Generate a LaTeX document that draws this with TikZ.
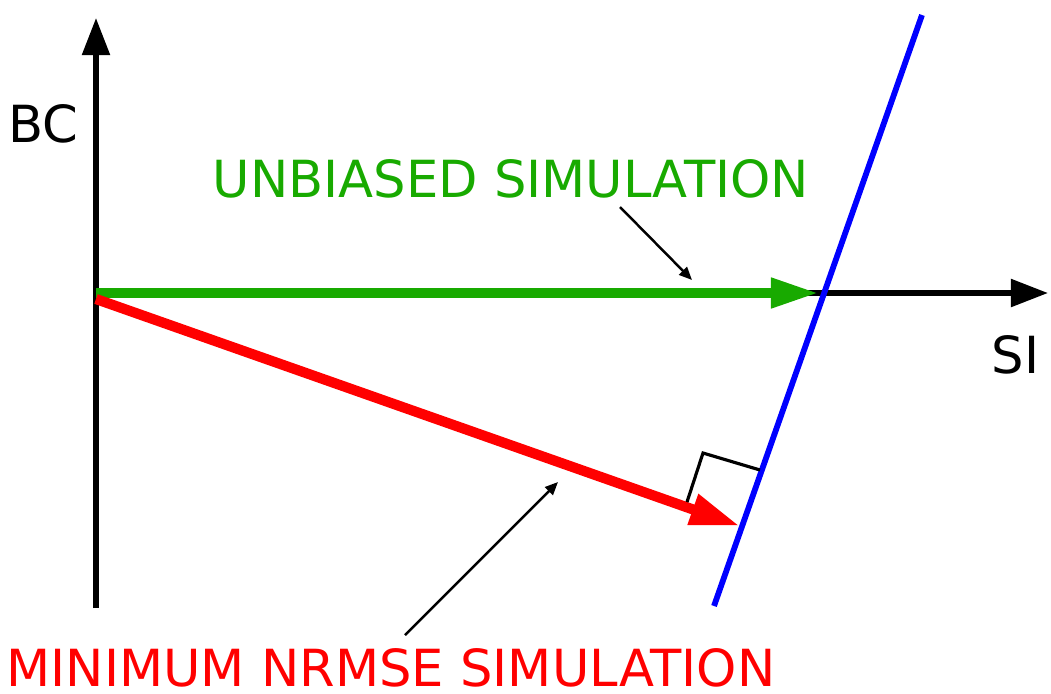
\documentclass[tikz,border=0pt]{standalone}
\usepackage{fontspec}
\setmainfont{DejaVu Sans}
\usetikzlibrary{arrows.meta}
\definecolor{simgreen}{RGB}{24,170,0}
\definecolor{simred}{RGB}{255,0,0}
\definecolor{simblue}{RGB}{0,0,255}
\tikzset{
  axis/.style={line width=1.5pt,black,-{Triangle[length=0.37cm,width=0.27cm]}},
  vec/.style={line width=2.9pt},
  lbl/.style={inner sep=0pt,anchor=base west,font=\fontsize{14.55pt}{17pt}\selectfont},
  pointer/.style={line width=0.7pt,black,-{Triangle[length=0.13cm,width=0.11cm]}},
}
\begin{document}
\begin{tikzpicture}[x=0.01cm,y=-0.01cm]
\useasboundingbox (0,0) rectangle (1051,693);
% coordinates
\coordinate (ybot) at (96,608);
\coordinate (ytop) at (96,18);
\coordinate (xorg) at (96,293);
\coordinate (xtip) at (1048,293);
\coordinate (gstart) at (96,293);
\coordinate (gend) at (819,293);
\coordinate (rstart) at (96,299);
\coordinate (rend) at (740,526);
\coordinate (bbot) at (714,606);
\coordinate (btop) at (922,15);
\coordinate (ra1) at (687,502);
\coordinate (ra2) at (703,453);
\coordinate (ra3) at (760,470);
% axes
\draw[axis] (ybot) -- (ytop);
\draw[axis] (xorg) -- (xtip);
% vectors
\draw[vec,simgreen,-{Triangle[length=0.48cm,width=0.28cm]}] (gstart) -- (gend);
\draw[vec,simred,-{Triangle[length=0.5cm,width=0.3cm]}] (rstart) -- (rend);
% line
\draw[line width=1.65pt,simblue] (bbot) -- (btop);
% right angle
\draw[line width=0.9pt,black] (ra1) -- (ra2) -- (ra3);
% labels
\node[lbl] (bc) at (8,142) {BC};
\node[lbl] (si) at (991,373) {SI};
\node[lbl,text=simgreen] (unb) at (212,197) {UNBIASED SIMULATION};
\node[lbl,text=simred] (minn) at (6,686) {MINIMUM NRMSE SIMULATION};
% pointers
\coordinate (p1s) at (620,207);
\coordinate (p1e) at (692,280);
\coordinate (p2s) at (405,635);
\coordinate (p2e) at (558,482);
\draw[pointer] (p1s) -- (p1e);
\draw[pointer] (p2s) -- (p2e);
\end{tikzpicture}
\end{document}
